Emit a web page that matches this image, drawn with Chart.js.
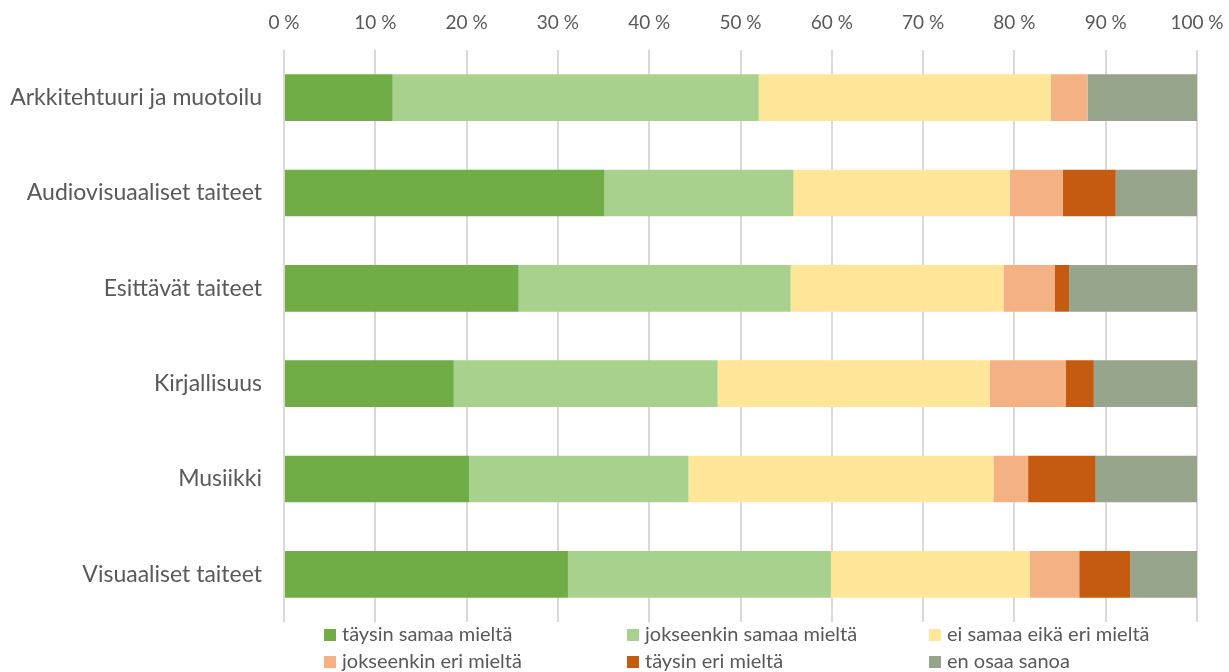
<!DOCTYPE html>
<html>
<head>
<meta charset="utf-8">
<script src="https://cdn.jsdelivr.net/npm/chart.js@4/dist/chart.umd.min.js"></script>
<style>
  html, body { margin: 0; padding: 0; background: #fff; }
  #wrap { width: 1229px; height: 672px; position: relative; }
</style>
</head>
<body>
<div id="wrap"><canvas id="surveyChart"></canvas></div>
<script>
// categories (top to bottom)
const categories = [
    'Arkkitehtuuri ja muotoilu',
    'Audiovisuaaliset taiteet',
    'Esittävät taiteet',
    'Kirjallisuus',
    'Musiikki',
    'Visuaaliset taiteet'
];

// shares in percent, one array per answer
const taysinSamaa   = [11.9, 35.1, 25.7, 18.6, 20.3, 31.1];
const jokseenkinSamaa = [40.1, 20.7, 29.8, 28.9, 24.0, 28.8];
const eiSamaaEikaEri = [32.0, 23.7, 23.3, 29.8, 33.4, 21.8];
const jokseenkinEri = [4.0, 5.8, 5.6, 8.3, 3.8, 5.4];
const taysinEri     = [0, 5.8, 1.6, 3.1, 7.4, 5.6];
const enOsaa        = [12.0, 8.9, 14.0, 11.3, 11.1, 7.3];

const seriesNames = [
    'täysin samaa mieltä',
    'jokseenkin samaa mieltä',
    'ei samaa eikä eri mieltä',
    'jokseenkin eri mieltä',
    'täysin eri mieltä',
    'en osaa sanoa'
];
const seriesColors = ['#70AD47', '#A9D18E', '#FFE699', '#F4B183', '#C55A11', '#97A58D'];

const tickValues = [0, 10, 20, 30, 40, 50, 60, 70, 80, 90, 100];

const FONT = 'Lato, "Open Sans", sans-serif';
const TEXT = '#595959';

// legend drawn as 3 x 2 grid like the original
const gridLegend = {
    id: 'gridLegend',
    afterDraw(chart) {
        const ctx = chart.ctx;
        const cols = [324, 627, 929];
        const rows = [635, 662];
        ctx.save();
        ctx.font = '20px ' + FONT;
        ctx.textBaseline = 'middle';
        ctx.textAlign = 'left';
        seriesNames.forEach(function (name, i) {
            const x = cols[i % 3];
            const y = rows[Math.floor(i / 3)];
            ctx.fillStyle = seriesColors[i];
            ctx.fillRect(x, y - 6, 12, 12);
            ctx.fillStyle = TEXT;
            ctx.fillText(name, x + 18, y);
        });
        ctx.restore();
    }
};

const allData = [taysinSamaa, jokseenkinSamaa, eiSamaaEikaEri, jokseenkinEri, taysinEri, enOsaa];

const ctx = document.getElementById('surveyChart').getContext('2d');
const surveyChart = new Chart(ctx, {
    type: 'bar',
    data: {
        labels: categories,
        datasets: seriesNames.map(function (name, i) {
            return {
                label: name,
                data: allData[i],
                backgroundColor: seriesColors[i],
                borderWidth: 0,
                barPercentage: 0.49,
                categoryPercentage: 1
            };
        })
    },
    options: {
        indexAxis: 'y',
        responsive: true,
        maintainAspectRatio: false,
        animation: false,
        layout: { padding: { left: 0, right: 32, top: 0, bottom: 50 } },
        plugins: {
            legend: { display: false },
            tooltip: { enabled: false }
        },
        scales: {
            x: {
                position: 'top',
                stacked: true,
                min: 0,
                max: 100,
                afterBuildTicks: function (scale) {
                    scale.ticks = tickValues.map(function (v) { return { value: v }; });
                },
                afterFit: function (scale) {
                    scale.height = 50;
                    // let the last label hang over the right edge
                    scale.paddingLeft = 0;
                    scale.paddingRight = 0;
                },
                grid: { color: '#D9D9D9', lineWidth: 2, drawTicks: false },
                border: { display: false },
                ticks: {
                    padding: 16,
                    color: TEXT,
                    font: { family: FONT, size: 19 },
                    callback: function (value) { return value + ' %'; }
                }
            },
            y: {
                stacked: true,
                afterFit: function (scale) { scale.width = 284; },
                grid: { display: false },
                border: { display: false },
                ticks: {
                    padding: 14,
                    color: TEXT,
                    font: { family: FONT, size: 23 }
                }
            }
        }
    },
    plugins: [gridLegend]
});
</script>
</body>
</html>
